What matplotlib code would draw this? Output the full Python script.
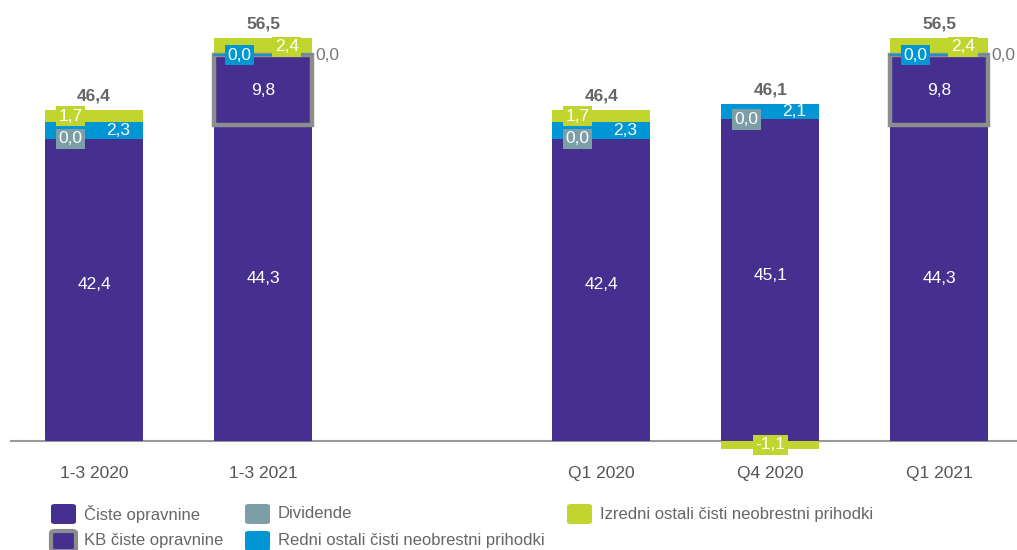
import matplotlib.pyplot as plt
from matplotlib.patches import FancyBboxPatch, Rectangle

plt.rcParams["font.family"] = ["Liberation Sans", "DejaVu Sans"]

# --------------------------------------------------
# Data (mio EUR)
# --------------------------------------------------

categories = ["1-3 2020", "1-3 2021", "Q1 2020", "Q4 2020", "Q1 2021"]
opravnine = [42.4, 44.3, 42.4, 45.1, 44.3]
kb_opravnine = [0.0, 9.8, 0.0, 0.0, 9.8]
dividende = [0.0, 0.0, 0.0, 0.0, 0.0]
redni = [2.3, 0.0, 2.3, 2.1, 0.0]
izredni = [1.7, 2.4, 1.7, -1.1, 2.4]
totals = [46.4, 56.5, 46.4, 46.1, 56.5]

legend_labels = [
    "Čiste opravnine",
    "KB čiste opravnine",
    "Dividende",
    "Redni ostali čisti neobrestni prihodki",
    "Izredni ostali čisti neobrestni prihodki",
]

# --------------------------------------------------
# Style
# --------------------------------------------------

C_PURPLE = "#46308f"
C_TEAL = "#7b9ea7"
C_BLUE = "#0095d3"
C_GREEN = "#c0d62f"
C_EDGE = "#8d8d8d"
C_TEXT = "#666666"
FS = 12.5

positions = [0, 1, 3, 4, 5]
width = 0.58
off = 0.14

def fmt(v):
    return f"{v:.1f}".replace(".", ",")

fig = plt.figure(figsize=(10.17, 5.5), dpi=100)
ax = fig.add_axes([10 / 1017, 90 / 550, 1007 / 1017, 460 / 550])
ax.set_xlim(-0.497, 5.46)
ax.set_ylim(-2.66, 61.85)
for s in ax.spines.values():
    s.set_visible(False)
ax.set_yticks([])
ax.set_xticks(positions)
ax.set_xticklabels(categories, fontsize=FS, color="#555555")
ax.tick_params(axis="x", length=0, pad=4)

ax.axhline(0, color="#999999", lw=1.5, zorder=1)

lbl = dict(ha="center", va="center", fontsize=FS, color="white", zorder=6)
box = "square,pad=0.15"

for i, x in enumerate(positions):
    base = opravnine[i]
    ax.bar(x, opravnine[i], width, color=C_PURPLE, zorder=2)
    ax.text(x, base / 2 + 0.7, fmt(opravnine[i]), **lbl)

    if kb_opravnine[i] > 0:
        ax.add_patch(Rectangle((x - width / 2, base), width, kb_opravnine[i],
                               facecolor=C_PURPLE, edgecolor=C_EDGE, lw=3.2, zorder=3))
        ax.text(x, base + kb_opravnine[i] / 2, fmt(kb_opravnine[i]), **lbl)
        base += kb_opravnine[i]

    div_y = base
    base += dividende[i]
    red_y = base + redni[i] / 2
    ax.bar(x, redni[i], width, bottom=base, color=C_BLUE, zorder=2)
    base += redni[i]

    if izredni[i] >= 0:
        ax.bar(x, izredni[i], width, bottom=base, color=C_GREEN, zorder=2)
        izr_y = base + izredni[i] / 2
        top = base + izredni[i]
    else:
        ax.bar(x, izredni[i], width, bottom=0, color=C_GREEN, zorder=2)
        izr_y = izredni[i] / 2
        top = base

    if kb_opravnine[i] > 0:
        ax.plot([x - width / 2, x + width / 2], [div_y, div_y], color=C_BLUE,
                lw=1.2, zorder=4)
        ax.text(x - off, red_y, fmt(redni[i]),
                bbox=dict(boxstyle=box, fc=C_BLUE, ec="none"), **lbl)
        ax.text(x + off, izr_y, fmt(izredni[i]),
                bbox=dict(boxstyle=box, fc=C_GREEN, ec="none"), **lbl)
        ax.annotate(fmt(dividende[i]), xy=(x + width / 2 - 0.06, div_y),
                    xytext=(x + width / 2 + 0.02, div_y), ha="left", va="center",
                    fontsize=FS, color="#777777", zorder=7,
                    arrowprops=dict(arrowstyle="-", color="#8c8c8c", lw=1,
                                    shrinkA=0, shrinkB=0))
    else:
        ax.text(x - off, div_y, fmt(dividende[i]),
                bbox=dict(boxstyle=box, fc=C_TEAL, ec="none"), **lbl)
        ax.text(x + off, red_y, fmt(redni[i]), **lbl)
        ax.text(x if izredni[i] < 0 else x - off, izr_y, fmt(izredni[i]),
                bbox=dict(boxstyle=box, fc=C_GREEN, ec="none"), **lbl)

    ax.annotate(fmt(totals[i]), xy=(x, top), xytext=(0, 5), textcoords="offset points",
                ha="center", va="bottom", fontsize=FS, fontweight="bold", color=C_TEXT)

# --------------------------------------------------
# Legend
# --------------------------------------------------

legend_items = [
    (50, 514, C_PURPLE, None, legend_labels[0]),
    (50, 541, C_PURPLE, C_EDGE, legend_labels[1]),
    (244, 514, C_TEAL, None, legend_labels[2]),
    (244, 541, C_BLUE, None, legend_labels[3]),
    (566, 514, C_GREEN, None, legend_labels[4]),
]
W, H = 1017, 550
for px, py, fc, ec, text in legend_items:
    fig.add_artist(FancyBboxPatch(((px + 1) / W, (H - py - 10) / H), 25 / W, 20 / H,
                                  boxstyle="round,pad=0,rounding_size=0.004",
                                  fc=fc, ec=ec if ec else "none", lw=3 if ec else 0,
                                  transform=fig.transFigure))
    fig.text((px + 34) / W, (H - py) / H, text, ha="left", va="center",
             fontsize=12, color="#666666")

plt.savefig("out.png", dpi=100)
plt.close()
print("Figure Saved.")
